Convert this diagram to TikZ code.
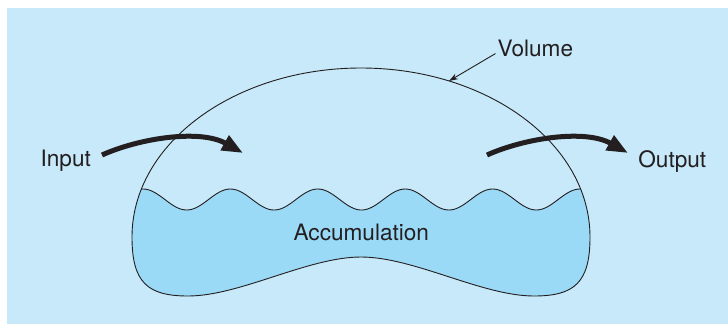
\documentclass[tikz,border=0pt]{standalone}
\usepackage{fontspec}
\setmainfont{TeX Gyre Heros}
\usetikzlibrary{arrows.meta,positioning,calc}
\definecolor{bgblue}{RGB}{199,233,249}
\definecolor{waterblue}{RGB}{155,218,246}
\definecolor{ink}{RGB}{35,31,32}
\newcommand{\tankoutline}{(132,237) arc[start angle=180, end angle=360, x radius=229, y radius=169]
    .. controls (590,282) and (575,296) .. (534,296)
    .. controls (482,296) and (414,257) .. (361,257)
    .. controls (308,257) and (240,296) .. (188,296)
    .. controls (147,296) and (132,282) .. (132,237) -- cycle}

\begin{document}
\begin{tikzpicture}[
        x=1pt, y=-1pt,
        tag/.style={inner sep=0pt, text=ink, font=\fontsize{22.6}{26}\selectfont},
        tank/.style={draw=ink, line width=0.9pt},
        flow/.style={draw=ink, line width=5pt, -{Triangle[length=21pt,width=16pt]}},
        pointer/.style={draw=ink, line width=0.9pt, -{Stealth[length=9pt,width=6pt]}}
    ]
        \useasboundingbox (0,0) rectangle (728,325);
        \fill[bgblue] (7,8) rectangle (728,324);

        \begin{scope}
            \clip \tankoutline;
            \fill[waterblue] plot[domain=-0.1:5.1, samples=200] ({143+87.4*\x},{199.5-10.5*cos(360*\x)})
                -- (620,320) -- (100,320) -- cycle;
            \draw[tank] plot[domain=-0.1:5.1, samples=200] ({143+87.4*\x},{199.5-10.5*cos(360*\x)});
        \end{scope}
        \draw[tank] \tankoutline;

        \node[tag, anchor=base] (input) at (65.7,166.7) {Input};
        \node[tag, anchor=base] (output) at (672.3,167) {Output};
        \node[tag, anchor=base] (accum) at (361.3,240.7) {Accumulation};
        \node[tag, anchor=base west] (volume) at (497.5,56) {Volume};

        \coordinate (in-a) at (102,155);
        \coordinate (in-b) at (243,153);
        \coordinate (out-a) at (487,155);
        \coordinate (out-b) at (628,153);
        \coordinate (dome) at ($(361,237)+(292.6:229 and 169)$);

        \path [flow] (in-a) .. controls (140,138) and (200,129) .. (in-b);
        \path [flow] (out-a) .. controls (525,138) and (585,129) .. (out-b);
        \path [pointer] ($(volume.south west)+(-2,-3)$) -- (dome);
    \end{tikzpicture}
\end{document}
